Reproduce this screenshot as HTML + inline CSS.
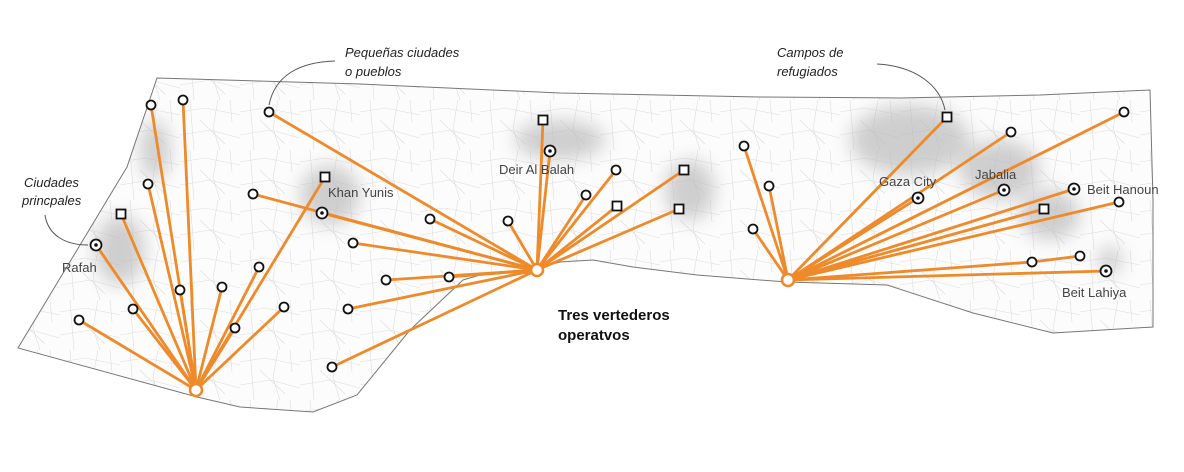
<!DOCTYPE html>
<html><head><meta charset="utf-8"><style>
html,body{margin:0;padding:0;background:#fff;}
svg{display:block;font-family:"Liberation Sans",sans-serif;}
</style></head><body>
<svg width="1184" height="472" viewBox="0 0 1184 472" xmlns="http://www.w3.org/2000/svg">
<defs>
<filter id="b" x="-50%" y="-50%" width="200%" height="200%"><feGaussianBlur stdDeviation="9"/></filter>
<pattern id="st" width="60" height="50" patternUnits="userSpaceOnUse">
<path d="M0,12 L25,8 L60,15 M10,0 L14,50 M38,0 L33,28 L40,50 M0,35 L30,30 L60,38 M50,0 L52,22 M20,20 L45,44" fill="none" stroke="#ddd" stroke-width="0.6"/>
</pattern>
<clipPath id="cp"><path id="ol" d="M157,78 L360,84 L560,93 L760,97 L900,98 L1040,95 L1150,90 L1153,200 L1153,327 L1053,333 L973,313 L887,285 L787,282 L760,280 L697,275 L633,267 L593,260 L560,262 L530,270 L487,273 L463,280 L410,330 L357,395 L313,412 L240,407 L197,397 L18,348 L127,167 Z"/></clipPath>
</defs>
<path d="M157,78 L360,84 L560,93 L760,97 L900,98 L1040,95 L1150,90 L1153,200 L1153,327 L1053,333 L973,313 L887,285 L787,282 L760,280 L697,275 L633,267 L593,260 L560,262 L530,270 L487,273 L463,280 L410,330 L357,395 L313,412 L240,407 L197,397 L18,348 L127,167 Z" fill="#fcfcfc"/>
<rect x="0" y="0" width="1184" height="472" fill="url(#st)" clip-path="url(#cp)"/>
<g fill="#bbb" opacity="0.7" filter="url(#b)" clip-path="url(#cp)">
<ellipse cx="330" cy="195" rx="30" ry="30"/>
<ellipse cx="155" cy="150" rx="15" ry="30"/>
<ellipse cx="120" cy="250" rx="25" ry="35"/>
<ellipse cx="560" cy="140" rx="45" ry="20"/>
<ellipse cx="690" cy="190" rx="25" ry="30"/>
<ellipse cx="910" cy="140" rx="60" ry="35"/>
<ellipse cx="1000" cy="170" rx="40" ry="30"/>
<ellipse cx="1050" cy="215" rx="30" ry="25"/>
<ellipse cx="1110" cy="260" rx="12" ry="14"/>
</g>
<path d="M157,78 L360,84 L560,93 L760,97 L900,98 L1040,95 L1150,90 L1153,200 L1153,327 L1053,333 L973,313 L887,285 L787,282 L760,280 L697,275 L633,267 L593,260 L560,262 L530,270 L487,273 L463,280 L410,330 L357,395 L313,412 L240,407 L197,397 L18,348 L127,167 Z" fill="none" stroke="#777" stroke-width="1"/>
<g fill="none" stroke="#555" stroke-width="1">
<path d="M269,105 C275,75 300,62 335,61"/>
<path d="M877,64 C915,66 940,85 945,110"/>
<path d="M45,215 C48,235 65,245 88,245"/>
</g>
<g stroke="#ee8a2a" stroke-width="2.8" stroke-linecap="round">
<line x1="196" y1="390" x2="151" y2="105"/><line x1="196" y1="390" x2="183" y2="100"/>
<line x1="196" y1="390" x2="148" y2="184"/><line x1="196" y1="390" x2="121" y2="214"/>
<line x1="196" y1="390" x2="96" y2="245"/><line x1="196" y1="390" x2="79" y2="320"/>
<line x1="196" y1="390" x2="133" y2="309"/><line x1="196" y1="390" x2="180" y2="290"/>
<line x1="196" y1="390" x2="222" y2="287"/><line x1="196" y1="390" x2="259" y2="267"/>
<line x1="196" y1="390" x2="235" y2="328"/><line x1="196" y1="390" x2="284" y2="307"/>
<line x1="196" y1="390" x2="325" y2="177"/>
<line x1="537" y1="270" x2="269" y2="112"/><line x1="537" y1="270" x2="253" y2="194"/>
<line x1="537" y1="270" x2="322" y2="213"/><line x1="537" y1="270" x2="430" y2="219"/>
<line x1="537" y1="270" x2="353" y2="243"/><line x1="537" y1="270" x2="386" y2="280"/>
<line x1="537" y1="270" x2="449" y2="277"/><line x1="537" y1="270" x2="348" y2="309"/>
<line x1="537" y1="270" x2="332" y2="367"/><line x1="537" y1="270" x2="543" y2="120"/>
<line x1="537" y1="270" x2="550" y2="151"/><line x1="537" y1="270" x2="616" y2="170"/>
<line x1="537" y1="270" x2="586" y2="195"/><line x1="537" y1="270" x2="508" y2="221"/>
<line x1="537" y1="270" x2="617" y2="206"/><line x1="537" y1="270" x2="684" y2="170"/>
<line x1="537" y1="270" x2="679" y2="209"/>
<line x1="788" y1="280" x2="744" y2="146"/><line x1="788" y1="280" x2="769" y2="186"/>
<line x1="788" y1="280" x2="753" y2="229"/><line x1="788" y1="280" x2="947" y2="117"/>
<line x1="788" y1="280" x2="1011" y2="132"/><line x1="788" y1="280" x2="1124" y2="112"/>
<line x1="788" y1="280" x2="918" y2="198"/><line x1="788" y1="280" x2="1004" y2="190"/>
<line x1="788" y1="280" x2="1074" y2="189"/><line x1="788" y1="280" x2="1044" y2="209"/>
<line x1="788" y1="280" x2="1119" y2="202"/><line x1="788" y1="280" x2="1032" y2="262"/>
<line x1="788" y1="280" x2="1106" y2="271"/><line x1="1032" y1="262" x2="1080" y2="256"/>
</g>
<g fill="#fff" stroke="#111" stroke-width="1.8">
<circle cx="151" cy="105" r="4.5"/><circle cx="183" cy="100" r="4.5"/><circle cx="269" cy="112" r="4.5"/>
<circle cx="148" cy="184" r="4.5"/><circle cx="79" cy="320" r="4.5"/><circle cx="133" cy="309" r="4.5"/>
<circle cx="180" cy="290" r="4.5"/><circle cx="222" cy="287" r="4.5"/><circle cx="259" cy="267" r="4.5"/>
<circle cx="235" cy="328" r="4.5"/><circle cx="284" cy="307" r="4.5"/><circle cx="253" cy="194" r="4.5"/>
<circle cx="430" cy="219" r="4.5"/><circle cx="353" cy="243" r="4.5"/><circle cx="386" cy="280" r="4.5"/>
<circle cx="449" cy="277" r="4.5"/><circle cx="348" cy="309" r="4.5"/><circle cx="332" cy="367" r="4.5"/>
<circle cx="616" cy="170" r="4.5"/><circle cx="586" cy="195" r="4.5"/><circle cx="508" cy="221" r="4.5"/>
<circle cx="744" cy="146" r="4.5"/><circle cx="769" cy="186" r="4.5"/><circle cx="753" cy="229" r="4.5"/>
<circle cx="1011" cy="132" r="4.5"/><circle cx="1124" cy="112" r="4.5"/><circle cx="1119" cy="202" r="4.5"/>
<circle cx="1032" cy="262" r="4.5"/><circle cx="1080" cy="256" r="4.5"/>
<rect x="116.5" y="209.5" width="9" height="9"/><rect x="320.5" y="172.5" width="9" height="9"/>
<rect x="538.5" y="115.5" width="9" height="9"/><rect x="612.5" y="201.5" width="9" height="9"/>
<rect x="679.5" y="165.5" width="9" height="9"/><rect x="674.5" y="204.5" width="9" height="9"/>
<rect x="942.5" y="112.5" width="9" height="9"/><rect x="1039.5" y="204.5" width="9" height="9"/>
<circle cx="96" cy="245" r="5.5"/><circle cx="322" cy="213" r="5.5"/><circle cx="550" cy="151" r="5.5"/>
<circle cx="918" cy="198" r="5.5"/><circle cx="1004" cy="190" r="5.5"/><circle cx="1074" cy="189" r="5.5"/>
<circle cx="1106" cy="271" r="5.5"/>
</g>
<g fill="#111">
<circle cx="96" cy="245" r="1.8"/><circle cx="322" cy="213" r="1.8"/><circle cx="550" cy="151" r="1.8"/>
<circle cx="918" cy="198" r="1.8"/><circle cx="1004" cy="190" r="1.8"/><circle cx="1074" cy="189" r="1.8"/>
<circle cx="1106" cy="271" r="1.8"/>
</g>
<g fill="#fff" stroke="#ee8a2a" stroke-width="2.6">
<circle cx="196" cy="390" r="6"/><circle cx="537" cy="270" r="6"/><circle cx="788" cy="280" r="6"/>
</g>
<g fill="#444" font-size="13">
<text x="62" y="272">Rafah</text><text x="328" y="197">Khan Yunis</text>
<text x="499" y="174">Deir Al Balah</text><text x="879" y="186">Gaza City</text>
<text x="975" y="179">Jabalia</text><text x="1087" y="194">Beit Hanoun</text>
<text x="1062" y="297">Beit Lahiya</text>
</g>
<g fill="#222" font-size="13" font-style="italic">
<text x="345" y="57">Pequeñas ciudades</text><text x="345" y="76">o pueblos</text>
<text x="777" y="57">Campos de</text><text x="777" y="76">refugiados</text>
<text x="24" y="187">Ciudades</text><text x="22" y="205">princpales</text>
</g>
<g fill="#111" font-size="15" font-weight="bold">
<text x="558" y="320">Tres vertederos</text><text x="558" y="340">operatvos</text>
</g>
</svg>
</body></html>
